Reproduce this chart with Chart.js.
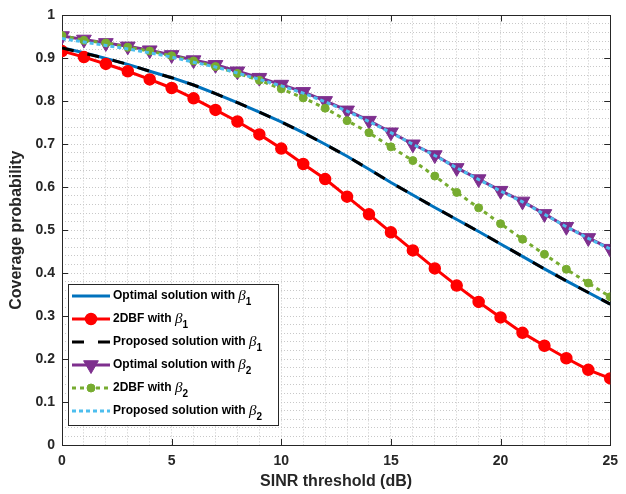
<!DOCTYPE html>
<html lang="en">
<head>
  <meta charset="UTF-8">
  <title>Coverage probability</title>
  <script src="https://cdn.jsdelivr.net/npm/chart.js@4.4.1/dist/chart.umd.min.js"></script>
  <style>
    html, body { margin: 0; padding: 0; background: #fff; }
    canvas { display: block; }
  </style>
</head>
<body>
  <canvas id="coverageChart" width="626" height="494"></canvas>

  <script>
    // SINR threshold in dB
    const sinrDb = [0, 1, 2, 3, 4, 5, 6, 7, 8, 9, 10, 11, 12, 13, 14, 15, 16, 17, 18, 19, 20, 21, 22, 23, 24, 25];

    const optimalBeta1 = [0.925, 0.913, 0.900, 0.886, 0.870, 0.855, 0.838, 0.818, 0.797, 0.775, 0.752, 0.727, 0.700,
                          0.672, 0.642, 0.611, 0.582, 0.553, 0.525, 0.497, 0.468, 0.439, 0.410, 0.382, 0.355, 0.328];
    const twoDbfBeta1 = [0.917, 0.903, 0.887, 0.870, 0.851, 0.831, 0.807, 0.780, 0.753, 0.723, 0.690, 0.654, 0.619,
                         0.578, 0.537, 0.495, 0.453, 0.411, 0.371, 0.333, 0.297, 0.261, 0.231, 0.202, 0.175, 0.155];
    const proposedBeta1 = [0.924, 0.912, 0.900, 0.886, 0.870, 0.855, 0.838, 0.818, 0.797, 0.775, 0.752, 0.727, 0.700,
                           0.672, 0.642, 0.611, 0.582, 0.553, 0.525, 0.497, 0.468, 0.439, 0.410, 0.382, 0.355, 0.328];
    const optimalBeta2 = [0.952, 0.944, 0.936, 0.928, 0.919, 0.908, 0.896, 0.885, 0.870, 0.855, 0.839, 0.822, 0.801,
                          0.779, 0.755, 0.728, 0.700, 0.675, 0.645, 0.619, 0.592, 0.567, 0.538, 0.508, 0.482, 0.457];
    const twoDbfBeta2 = [0.953, 0.942, 0.936, 0.926, 0.917, 0.906, 0.894, 0.881, 0.865, 0.849, 0.829, 0.808, 0.784,
                         0.755, 0.727, 0.694, 0.662, 0.626, 0.588, 0.552, 0.515, 0.479, 0.444, 0.409, 0.377, 0.345];
    const proposedBeta2 = [0.946, 0.938, 0.930, 0.922, 0.913, 0.903, 0.891, 0.880, 0.866, 0.851, 0.836, 0.819, 0.799,
                           0.777, 0.753, 0.727, 0.700, 0.674, 0.645, 0.618, 0.591, 0.566, 0.537, 0.508, 0.481, 0.456];

    const legendNames = ["Optimal solution with ", "2DBF with ", "Proposed solution with ",
                         "Optimal solution with ", "2DBF with ", "Proposed solution with "];
    const legendIndex = ["1", "1", "1", "2", "2", "2"];

    const xMajorTicks = [0, 5, 10, 15, 20, 25];
    const yMajorTicks = [0, 0.1, 0.2, 0.3, 0.4, 0.5, 0.6, 0.7, 0.8, 0.9, 1];

    const axisColor = "#262626";
    const gridColor = "#c8c8c8";
    const tickFont = { family: "'Liberation Sans', Arial, sans-serif", size: 14, weight: "bold" };
    const titleFont = { family: "'Liberation Sans', Arial, sans-serif", size: 16, weight: "bold" };

    function toPoints(values) {
      return values.map((v, i) => ({ x: sinrDb[i], y: v }));
    }

    // later series sit on top (lower order is drawn last)
    const datasets = [
      { data: toPoints(optimalBeta1), borderColor: "#0072BD", backgroundColor: "#0072BD",
        borderWidth: 3, pointRadius: 0, order: 6 },
      { data: toPoints(twoDbfBeta1), borderColor: "#FF0000", backgroundColor: "#FF0000",
        borderWidth: 3, pointStyle: "circle", pointRadius: 5.5, pointBorderWidth: 1.5, order: 5 },
      { data: toPoints(proposedBeta1), borderColor: "#000000", backgroundColor: "#000000",
        borderWidth: 3, borderDash: [12, 14], pointRadius: 0, order: 4 },
      { data: toPoints(optimalBeta2), borderColor: "#7E2F8E", backgroundColor: "#7E2F8E",
        borderWidth: 3, pointStyle: "triangle", pointRotation: 180, pointRadius: 8.5, pointBorderWidth: 1, order: 3 },
      { data: toPoints(twoDbfBeta2), borderColor: "#77AC30", backgroundColor: "#77AC30",
        borderWidth: 3, borderDash: [4, 4], pointStyle: "circle", pointRadius: 4, pointBorderWidth: 1, order: 2 },
      { data: toPoints(proposedBeta2), borderColor: "#4DBEEE", backgroundColor: "#4DBEEE",
        borderWidth: 3, borderDash: [4, 3], pointRadius: 0, order: 1 }
    ];

    // box around the axes and short inward ticks on all four sides
    const axesBox = {
      id: "axesBox",
      beforeDatasetsDraw(chart) {
        const ctx = chart.ctx;
        const a = chart.chartArea;
        const xs = chart.scales.x, ys = chart.scales.y;
        ctx.save();
        ctx.strokeStyle = axisColor;
        ctx.lineWidth = 1;
        ctx.setLineDash([]);
        ctx.beginPath();
        xMajorTicks.forEach(t => {
          const px = Math.round(xs.getPixelForValue(t)) + 0.5;
          ctx.moveTo(px, a.bottom); ctx.lineTo(px, a.bottom - 6);
          ctx.moveTo(px, a.top); ctx.lineTo(px, a.top + 6);
        });
        yMajorTicks.forEach(t => {
          const py = Math.round(ys.getPixelForValue(t)) + 0.5;
          ctx.moveTo(a.left, py); ctx.lineTo(a.left + 6, py);
          ctx.moveTo(a.right, py); ctx.lineTo(a.right - 6, py);
        });
        ctx.stroke();
        ctx.strokeRect(Math.round(a.left) + 0.5, Math.round(a.top) + 0.5,
                       Math.round(a.right - a.left), Math.round(a.bottom - a.top));
        ctx.restore();
      }
    };

    // legend box in the lower left corner, with beta subscripts
    const betaLegend = {
      id: "betaLegend",
      afterDraw(chart) {
        const ctx = chart.ctx;
        const boxX = 68.5, boxY = 284.5, boxW = 210, boxH = 141;
        ctx.save();
        ctx.fillStyle = "#ffffff";
        ctx.fillRect(boxX, boxY, boxW, boxH);
        ctx.strokeStyle = axisColor;
        ctx.lineWidth = 1;
        ctx.strokeRect(boxX, boxY, boxW, boxH);

        for (let i = 0; i < datasets.length; i++) {
          const ds = datasets[i];
          const y = 296 + i * 23;

          ctx.beginPath();
          ctx.setLineDash(ds.borderDash || []);
          ctx.strokeStyle = ds.borderColor;
          ctx.lineWidth = ds.borderWidth;
          ctx.moveTo(72, y);
          ctx.lineTo(110, y);
          ctx.stroke();

          if (ds.pointRadius > 0) {
            ctx.setLineDash([]);
            ctx.fillStyle = ds.backgroundColor;
            ctx.strokeStyle = ds.borderColor;
            ctx.lineWidth = ds.pointBorderWidth;
            Chart.helpers.drawPoint(ctx, {
              pointStyle: ds.pointStyle,
              rotation: ds.pointRotation || 0,
              radius: ds.pointRadius,
              borderWidth: ds.pointBorderWidth
            }, 91, y);
          }

          ctx.fillStyle = "#000000";
          ctx.textBaseline = "middle";
          ctx.font = "bold 12px 'Liberation Sans', Arial, sans-serif";
          ctx.fillText(legendNames[i], 113, y);
          let tx = 113 + ctx.measureText(legendNames[i]).width;
          ctx.font = "italic 15px 'Liberation Serif', serif";
          ctx.fillText("\u03B2", tx, y);
          tx += ctx.measureText("\u03B2").width;
          ctx.font = "bold 10px 'Liberation Sans', Arial, sans-serif";
          ctx.fillText(legendIndex[i], tx, y + 6);
        }
        ctx.restore();
      }
    };

    new Chart(document.getElementById("coverageChart"), {
      type: "line",
      data: { datasets: datasets },
      options: {
        responsive: false,
        animation: false,
        layout: { padding: { top: 6, right: 9, left: 0, bottom: 0 } },
        elements: { line: { tension: 0 } },
        plugins: {
          legend: { display: false },
          tooltip: { enabled: false }
        },
        scales: {
          x: {
            type: "linear",
            min: 0,
            max: 25,
            afterFit(scale) { scale.height = 49; },
            ticks: {
              stepSize: 1,
              autoSkip: false,
              maxRotation: 0,
              padding: 8,
              color: axisColor,
              font: tickFont,
              callback: v => (v % 5 === 0 ? String(v) : "")
            },
            grid: { color: gridColor, lineWidth: 1, drawTicks: false },
            border: { display: false, dash: [1, 2] },
            title: {
              display: true,
              text: "SINR threshold (dB)",
              color: axisColor,
              font: titleFont,
              padding: { top: 0, bottom: 3 }
            }
          },
          y: {
            min: 0,
            max: 1,
            afterFit(scale) { scale.width = 62; },
            ticks: {
              stepSize: 0.02,
              autoSkip: false,
              padding: 7,
              color: axisColor,
              font: tickFont,
              callback: v => {
                const k = Math.round(v * 50);
                return k % 5 === 0 ? String(k / 50) : "";
              }
            },
            grid: { color: gridColor, lineWidth: 1, drawTicks: false },
            border: { display: false, dash: [1, 2] },
            title: {
              display: true,
              text: "Coverage probability",
              color: axisColor,
              font: titleFont,
              padding: { top: 7, bottom: 0 }
            }
          }
        }
      },
      plugins: [axesBox, betaLegend]
    });
  </script>
</body>
</html>
